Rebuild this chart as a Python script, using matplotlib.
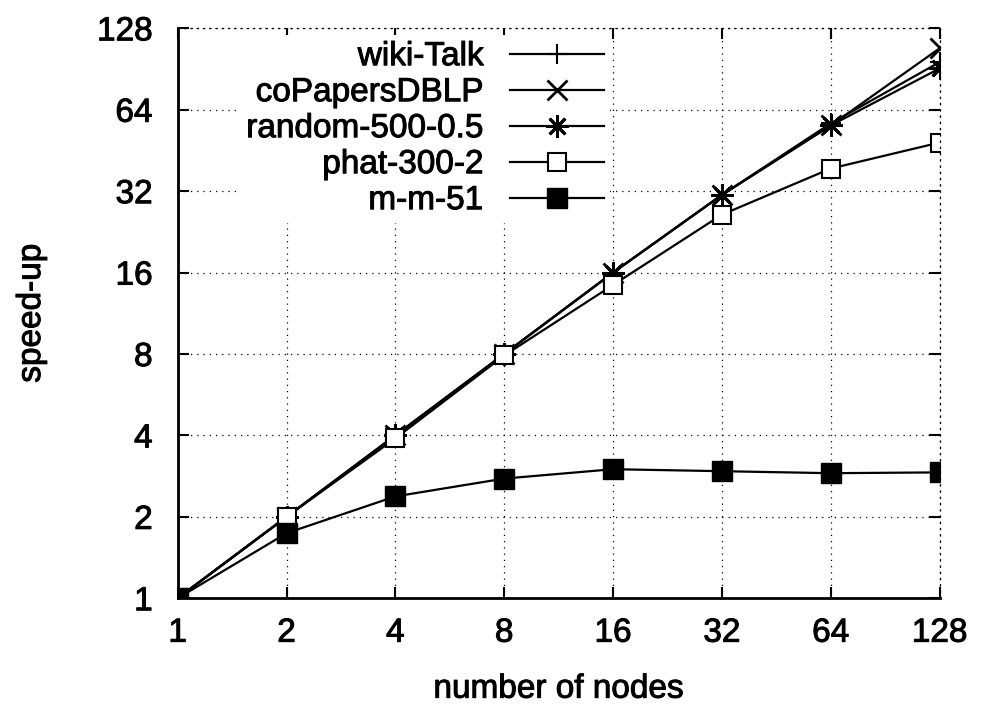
"""Speed-up vs number of nodes (gnuplot-style log-log chart)"""

import matplotlib
matplotlib.use("Agg")
import matplotlib.pyplot as plt
import matplotlib.ticker as ticker
import matplotlib.patheffects as pe

# data
nodes = [1, 2, 4, 8, 16, 32, 64, 128]
wiki_talk = [1, 2, 4, 8, 16, 31, 57, 96]
co_papers = [1, 2, 4, 8, 16, 31, 56, 108]
random_500 = [1, 2, 4, 8, 16, 31, 56, 91]
phat_300 = [1, 2, 3.9, 7.9, 14.4, 26.2, 38.8, 48.4]
mm_51 = [1, 1.74, 2.38, 2.77, 3.0, 2.95, 2.9, 2.92]

ticks = [1, 2, 4, 8, 16, 32, 64, 128]
tick_labels = ["1", "2", "4", "8", "16", "32", "64", "128"]


def load_style():
    plt.rcParams["font.family"] = ["Liberation Sans", "DejaVu Sans"]
    plt.rcParams["font.size"] = 24


def create_chart(ax):
    series = [
        (wiki_talk, "wiki-Talk", dict(marker="+", markersize=15, markeredgewidth=1.5)),
        (co_papers, "coPapersDBLP", dict(marker="x", markersize=14, markeredgewidth=2)),
        (random_500, "random-500-0.5", dict(marker=(8, 2, 0), markersize=16, markeredgewidth=2)),
        (phat_300, "phat-300-2", dict(marker="s", markersize=13, markerfacecolor="white",
                                      markeredgewidth=1.5)),
        (mm_51, "m-m-51", dict(marker="s", markersize=14, markerfacecolor="black",
                               markeredgewidth=1.0)),
    ]
    for ys, label, kw in series:
        ax.plot(nodes, ys, color="black", linewidth=1.6, label=label, **kw)

    ax.set_xscale("log", base=2)
    ax.set_yscale("log", base=2)
    ax.set_xlim(1, 128)
    ax.set_ylim(1, 128)
    ax.xaxis.set_major_locator(ticker.FixedLocator(ticks))
    ax.yaxis.set_major_locator(ticker.FixedLocator(ticks))
    ax.xaxis.set_major_formatter(ticker.FixedFormatter(tick_labels))
    ax.yaxis.set_major_formatter(ticker.FixedFormatter(tick_labels))
    ax.xaxis.set_minor_locator(ticker.NullLocator())
    ax.yaxis.set_minor_locator(ticker.NullLocator())

    ax.tick_params(direction="in", length=8, width=1.5, top=True, right=True, labelsize=24)
    ax.tick_params(axis="x", pad=14)
    ax.tick_params(axis="y", pad=18)
    ax.grid(True, linestyle=(0, (1, 4)), color="black", linewidth=0.9)

    for side in ["left", "bottom"]:
        ax.spines[side].set_linewidth(2)
    for side in ["top", "right"]:
        ax.spines[side].set_linestyle((0, (1, 4)))
        ax.spines[side].set_linewidth(0.9)

    ax.set_xlabel("number of nodes", fontsize=24, labelpad=18)
    ax.set_ylabel("speed-up", fontsize=24, labelpad=36)

    leg = ax.legend(loc="upper right", bbox_to_anchor=(0.572, 0.995), markerfirst=False,
                    frameon=True, facecolor="white", edgecolor="none", framealpha=1,
                    fancybox=False, fontsize=24, handlelength=2.8, handletextpad=0.8,
                    labelspacing=0.15, borderpad=0.2, borderaxespad=0.1)

    heavy = [pe.withStroke(linewidth=0.7, foreground="black")]
    texts = ax.get_xticklabels() + ax.get_yticklabels() + leg.get_texts()
    texts += [ax.xaxis.label, ax.yaxis.label]
    for t in texts:
        t.set_path_effects(heavy)
    return leg


if __name__ == "__main__":
    load_style()
    fig = plt.figure(figsize=(9.87, 7.08), dpi=100)
    ax = fig.add_axes([0.180, 0.155, 0.772, 0.805])
    create_chart(ax)
    fig.savefig("out.png", dpi=100)
